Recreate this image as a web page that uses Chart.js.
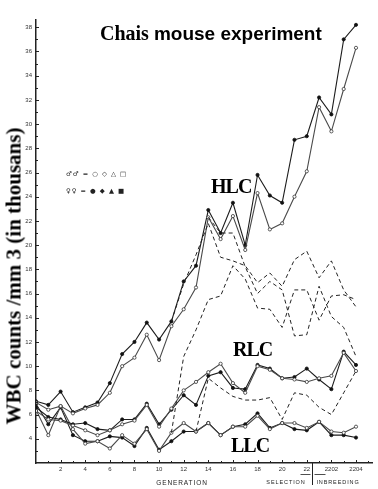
<!DOCTYPE html>
<html><head><meta charset="utf-8">
<script src="https://cdn.jsdelivr.net/npm/chart.js@4.4.1/dist/chart.umd.min.js"></script>
<style>
html,body{margin:0;padding:0;background:#fff;}
#wrap{position:relative;width:378px;height:489px;overflow:hidden;background:#fff;}
canvas{position:absolute;left:0;top:0;}
.t{position:absolute;white-space:nowrap;color:#000;}
.serif{font-family:"Liberation Serif","Times New Roman",serif;font-weight:bold;}
.small{font-family:"Liberation Sans",Arial,sans-serif;font-size:6.5px;letter-spacing:0.9px;color:#222;line-height:7px;}
.leg{font-family:"DejaVu Sans",sans-serif;font-size:6.5px;color:#222;line-height:8px;letter-spacing:1px;}
</style></head><body>
<div id="wrap">
<canvas id="c" width="378" height="489"></canvas>
<div class="t serif" style="left:100px;top:23px;font-size:20px;line-height:20px;">Chais <span style="font-family:'Liberation Sans',Arial,sans-serif;font-size:19px;">mouse experiment</span></div>
<div class="t serif" style="left:14px;top:276px;font-size:21px;line-height:21px;transform:translate(-50%,-50%) rotate(-90deg);">WBC counts /mm 3 (in thousans)</div>
<div class="t serif" style="left:211px;top:176px;font-size:20px;line-height:20px;letter-spacing:-1px;">HLC</div>
<div class="t serif" style="left:233px;top:339px;font-size:20px;line-height:20px;letter-spacing:-1px;">RLC</div>
<div class="t serif" style="left:231px;top:435px;font-size:20px;line-height:20px;letter-spacing:-1px;">LLC</div>
<div class="t leg" style="left:66px;top:170px;">♂♂ = ○ ◇ △ □</div>
<div class="t leg" style="left:66px;top:187px;">♀♀ = ● ◆ ▲ ■</div>
<div class="t small" style="left:182px;top:479px;transform:translateX(-50%);">GENERATION</div>
<div class="t small" style="left:286px;top:479px;transform:translateX(-50%);font-size:5.5px;">SELECTION</div>
<div class="t small" style="left:338px;top:479px;transform:translateX(-50%);font-size:5.5px;">INBREEDING</div>
</div>
<script>
// ---- data ----
const gens = [0,1,2,3,4,5,6,7,8,9,10,11,12,13,14,15,16,17,18,19,20,21,22,23,24,25,26];
const xTickValues = [2,4,6,8,10,12,14,16,18,20,22,24,26];
const xTickLabels = ['2','4','6','8','10','12','14','16','18','20','22','2202','2204'];
const yTickValues = [4,6,8,10,12,14,16,18,20,22,24,26,28,30,32,34,36,38];

const hlcFemale = [7.1,6.8,7.9,6.2,6.6,7.0,8.6,11.0,12.0,13.6,12.2,13.7,17.0,18.3,22.9,21.0,23.5,20.0,25.8,24.1,23.5,28.7,29.0,32.2,30.8,37.0,38.2];
const hlcMale   = [7.0,6.4,6.7,6.1,6.5,6.8,7.8,10.0,10.7,12.6,10.5,13.3,14.7,16.5,22.3,20.5,22.4,19.6,24.3,21.3,21.8,24.0,26.1,31.4,29.4,32.9,36.3];
const rlcFemale = [6.6,5.8,5.6,5.2,5.3,4.8,4.7,5.6,5.6,6.9,5.2,6.4,7.6,6.8,9.2,9.5,8.2,8.1,10.1,9.8,9.0,9.1,9.8,8.9,8.1,11.2,10.1];
const rlcMale   = [6.3,5.6,5.5,5.1,4.7,4.3,4.7,5.2,5.5,6.8,5.0,6.5,8.0,8.7,9.5,10.2,8.6,7.8,10.0,9.7,9.0,8.9,8.7,9.0,9.2,11.1,9.6];
const llcFemale = [6.9,5.2,6.6,4.3,3.8,3.8,4.2,4.1,3.4,4.9,3.1,3.8,4.6,4.6,5.3,4.3,5.0,5.2,6.1,4.9,5.3,4.8,4.7,5.4,4.3,4.3,4.1];
const llcMale   = [6.4,4.3,6.7,4.8,3.6,3.8,3.2,4.3,3.6,4.8,3.0,4.5,5.3,4.6,5.3,4.3,5.0,5.0,5.9,4.8,5.3,5.3,4.9,5.4,4.6,4.5,5.0];
const relaxedA  = [null,null,null,null,null,null,null,null,null,null,null,13.7,16.8,19.2,21.8,19.0,18.7,18.3,16.9,17.7,16.6,18.8,19.5,17.3,18.7,16.3,14.9];
const relaxedB  = [null,null,null,null,null,null,null,null,null,null,null,4.5,10.8,13.0,15.5,15.8,18.3,17.2,14.8,14.7,13.2,16.3,16.3,13.8,15.8,15.9,15.5];
const relaxedC  = [null,null,null,null,null,null,null,null,null,null,null,null,null,null,22.3,21.0,21.0,18.2,16.0,17.0,16.3,12.5,12.6,16.6,14.1,13.2,10.8];
const relaxedD  = [null,null,null,null,null,null,null,null,null,null,null,null,null,4.6,9.0,8.2,7.5,7.2,7.2,7.4,5.6,7.8,7.6,6.6,6.0,7.8,9.6];
const separatorGen = 22.45;

function pts(arr){ const o=[]; arr.forEach((v,i)=>{ if(v!==null) o.push({x:gens[i],y:v}); }); return o; }

function solid(arr, filled){
  return {data:pts(arr), borderColor: filled?'#1c1c1c':'#4a4a4a', borderWidth:1.1,
    pointRadius:1.6, pointBorderWidth:0.8, pointBorderColor: filled?'#111':'#333',
    pointBackgroundColor: filled?'#111':'#fff', tension:0, fill:false};
}
function dashed(arr){
  return {data:pts(arr), borderColor:'#222', borderWidth:1, borderDash:[4,3],
    pointRadius:0, tension:0, fill:false};
}

const decor = {
  id:'decor',
  afterDraw(chart){
    const ctx=chart.ctx, xs=chart.scales.x, ys=chart.scales.y;
    ctx.save();
    ctx.strokeStyle='#222'; ctx.lineWidth=1;
    for(let g=1; g<=27; g++){
      const px=Math.round(xs.getPixelForValue(g))+0.5;
      ctx.beginPath(); ctx.moveTo(px, ys.bottom); ctx.lineTo(px, ys.bottom-(g%2?2:3)); ctx.stroke();
    }
    for(let v=3; v<=38; v++){
      const py=Math.round(ys.getPixelForValue(v))+0.5;
      ctx.beginPath(); ctx.moveTo(xs.left, py); ctx.lineTo(xs.left+(v%2?2:3), py); ctx.stroke();
    }
    const sx=Math.round(xs.getPixelForValue(separatorGen))+0.5;
    ctx.beginPath(); ctx.moveTo(sx, ys.bottom); ctx.lineTo(sx, ys.bottom+22); ctx.stroke();
    const ay=ys.bottom+11.5;
    ctx.lineWidth=0.8;
    ctx.beginPath(); ctx.moveTo(sx-12, ay); ctx.lineTo(sx-2, ay); ctx.moveTo(sx+2, ay); ctx.lineTo(sx+13, ay); ctx.stroke();
    ctx.restore();
  }
};

new Chart(document.getElementById('c'), {
  type:'line',
  data:{ datasets:[
    dashed(relaxedA), dashed(relaxedB), dashed(relaxedC), dashed(relaxedD),
    solid(hlcMale,false), solid(hlcFemale,true),
    solid(rlcMale,false), solid(rlcFemale,true),
    solid(llcMale,false), solid(llcFemale,true)
  ]},
  options:{
    responsive:false, animation:false, devicePixelRatio:1,
    layout:{padding:{top:20,right:6,left:0,bottom:0}},
    plugins:{legend:{display:false}, title:{display:false}, tooltip:{enabled:false}},
    scales:{
      x:{type:'linear', min:0, max:27.3,
        afterBuildTicks(s){ s.ticks = xTickValues.map(v=>({value:v})); },
        afterFit(s){ s.height=26; },
        grid:{display:false, drawTicks:false},
        border:{display:true, color:'#222', width:1.5},
        ticks:{autoSkip:false, maxRotation:0, padding:3, color:'#333',
          font:{family:'Liberation Sans', size:6},
          callback(v){ const i=xTickValues.indexOf(v); return i>=0?xTickLabels[i]:''; }}
      },
      y:{type:'linear', min:2, max:38.6,
        afterBuildTicks(s){ s.ticks = yTickValues.map(v=>({value:v})); },
        afterFit(s){ s.width=36; },
        grid:{display:false, drawTicks:false},
        border:{display:true, color:'#222', width:1.5},
        ticks:{padding:4, color:'#333', font:{family:'Liberation Sans', size:6},
          callback(v){ return String(v); }}
      }
    }
  },
  plugins:[decor]
});
</script>
</body></html>
